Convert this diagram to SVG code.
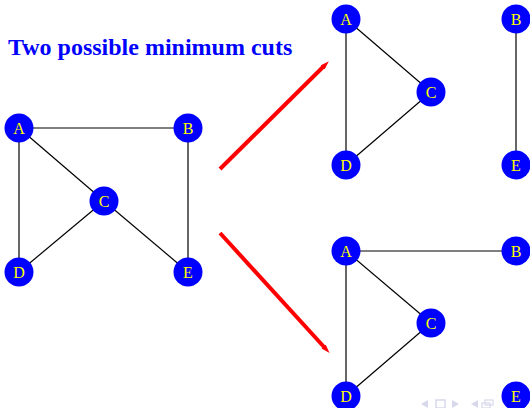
<svg xmlns="http://www.w3.org/2000/svg" width="530" height="408" viewBox="0 0 530 408">
<style>
.n circle{fill:#0000ff}
.n text{fill:#ffff00;font-family:"Liberation Serif",serif;font-size:16px;text-anchor:middle}
.e line{stroke:#000;stroke-width:1.2}
.r{stroke:#ff0000;stroke-width:4;fill:none}
.nav{fill:#d8d8ec}
</style>
<defs>
<marker id="ah" markerWidth="3" markerHeight="3" refX="0.5" refY="1.5" orient="auto" markerUnits="strokeWidth">
<path d="M0,0.8 L2.2,1.5 L0,2.2 Z" fill="#ff0000"/>
</marker>
</defs>
<rect width="530" height="408" fill="#fff"/>
<text x="8" y="55" font-family="Liberation Serif,serif" font-weight="bold" font-size="24" fill="#0000ff">Two possible minimum cuts</text>
<g id="connectors" class="e">
<line x1="19" y1="128" x2="188" y2="128"/>
<line x1="19" y1="128" x2="19" y2="272"/>
<line x1="19" y1="128" x2="104" y2="201"/>
<line x1="104" y1="201" x2="19" y2="272"/>
<line x1="104" y1="201" x2="188" y2="272"/>
<line x1="188" y1="128" x2="188" y2="272"/>
<line x1="346" y1="19" x2="346" y2="165"/>
<line x1="346" y1="19" x2="431" y2="92"/>
<line x1="431" y1="92" x2="346" y2="165"/>
<line x1="516" y1="19" x2="516" y2="165"/>
<line x1="346" y1="251" x2="516" y2="251"/>
<line x1="346" y1="251" x2="346" y2="396"/>
<line x1="346" y1="251" x2="431" y2="323"/>
<line x1="431" y1="323" x2="346" y2="396"/>
</g>
<g id="arrows">
<line class="r" x1="220" y1="169" x2="324" y2="66" marker-end="url(#ah)"/>
<line class="r" x1="220" y1="233" x2="325" y2="348" marker-end="url(#ah)"/>
</g>
<g id="A1" class="n"><circle cx="19" cy="128" r="14.5"/><text x="19" y="134">A</text></g>
<g id="B1" class="n"><circle cx="188" cy="128" r="14.5"/><text x="188" y="134">B</text></g>
<g id="C1" class="n"><circle cx="104" cy="201" r="14.5"/><text x="104" y="207">C</text></g>
<g id="D1" class="n"><circle cx="19" cy="272" r="14.5"/><text x="19" y="278">D</text></g>
<g id="E1" class="n"><circle cx="188" cy="272" r="14.5"/><text x="188" y="278">E</text></g>
<g id="A2" class="n"><circle cx="346" cy="19" r="14.5"/><text x="346" y="25">A</text></g>
<g id="B2" class="n"><circle cx="516" cy="19" r="14.5"/><text x="516" y="25">B</text></g>
<g id="C2" class="n"><circle cx="431" cy="92" r="14.5"/><text x="431" y="98">C</text></g>
<g id="D2" class="n"><circle cx="346" cy="165" r="14.5"/><text x="346" y="171">D</text></g>
<g id="E2" class="n"><circle cx="516" cy="165" r="14.5"/><text x="516" y="171">E</text></g>
<g id="A3" class="n"><circle cx="346" cy="251" r="14.5"/><text x="346" y="257">A</text></g>
<g id="B3" class="n"><circle cx="516" cy="251" r="14.5"/><text x="516" y="257">B</text></g>
<g id="C3" class="n"><circle cx="431" cy="323" r="14.5"/><text x="431" y="329">C</text></g>
<g id="D3" class="n"><circle cx="346" cy="396" r="14.5"/><text x="346" y="402">D</text></g>
<g id="E3" class="n"><circle cx="516" cy="396" r="14.5"/><text x="516" y="402">E</text></g>
<g id="nav">
<path class="nav" d="M421,404 L428,400 L428,408 Z"/>
<rect x="436" y="400" width="9" height="8" fill="none" stroke="#d8d8ec" stroke-width="1.5"/>
<path class="nav" d="M452,400 L459,404 L452,408 Z"/>
<path class="nav" d="M471,404 L478,400 L478,408 Z"/>
<rect x="482" y="403" width="8" height="5" fill="none" stroke="#d8d8ec" stroke-width="1.2"/>
<rect x="485" y="400" width="8" height="5" fill="none" stroke="#d8d8ec" stroke-width="1.2"/>
</g>
</svg>
